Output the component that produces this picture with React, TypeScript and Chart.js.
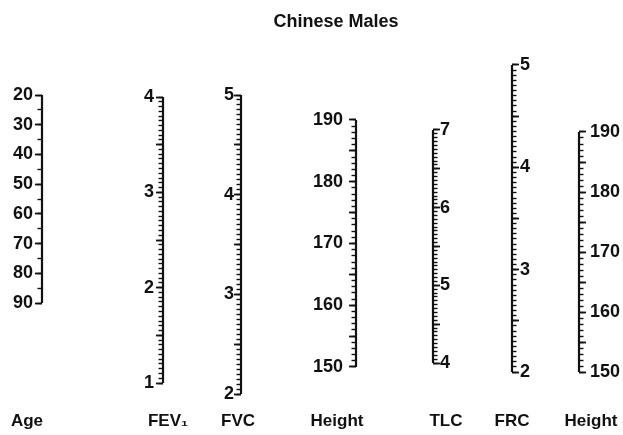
import React, { useEffect, useRef } from 'react';
import { Chart, registerables } from 'chart.js';

Chart.register(...registerables);

// ---------------- data ----------------
const titleText = 'Chinese Males';
const columnNames = ['Age', 'FEV₁', 'FVC', 'Height', 'TLC', 'FRC', 'Height'];
const ageTicks = [20, 30, 40, 50, 60, 70, 80, 90];
const fev1Ticks = [4, 3, 2, 1];
const fvcTicks = [5, 4, 3, 2];
const heightTicks = [190, 180, 170, 160, 150];
const tlcTicks = [7, 6, 5, 4];
const frcTicks = [5, 4, 3, 2];
const height2Ticks = [190, 180, 170, 160, 150];
// unlabelled intermediate tick step and minor tick step per column
const midSteps = [10, 0.5, 0.5, 5, 0.5, 0.5, 5];
const minorSteps = [5, 0.05, 0.05, 1, 0.05, 0.05, 1];

// ---------------- layout (pixels) ----------------
const W = 623;
const H = 435;
const AREA_TOP = 50;
const AREA_BOTTOM = 395;
const INK = '#111';
const FAMILY = "'Liberation Sans', Arial, Helvetica, sans-serif";

type Side = 'left' | 'right';
const columnLayout: { side: Side; spineX: number; topPx: number; botPx: number; gap: number; nameX: number }[] = [
  { side: 'left', spineX: 42, topPx: 95, botPx: 303, gap: 4, nameX: 27 },
  { side: 'left', spineX: 163, topPx: 97, botPx: 383, gap: 4, nameX: 168 },
  { side: 'left', spineX: 241, topPx: 95, botPx: 394, gap: 2, nameX: 238 },
  { side: 'left', spineX: 356, topPx: 120, botPx: 367, gap: 8, nameX: 337 },
  { side: 'right', spineX: 433, topPx: 130, botPx: 363, gap: 1, nameX: 446 },
  { side: 'right', spineX: 512, topPx: 65, botPx: 372, gap: 3, nameX: 512 },
  { side: 'right', spineX: 579, topPx: 132, botPx: 372, gap: 6, nameX: 591 },
];
const titleX = 336;

const tickSets = [ageTicks, fev1Ticks, fvcTicks, heightTicks, tlcTicks, frcTicks, height2Ticks];
const ids = ['age', 'fev1', 'fvc', 'height', 'tlc', 'frc', 'height2'];

const r4 = (v: number) => Math.round(v * 10000) / 10000;
function steps(a: number, b: number, step: number): number[] {
  const lo = Math.min(a, b);
  const hi = Math.max(a, b);
  const n = Math.round((hi - lo) / step);
  const out: number[] = [];
  for (let i = 0; i <= n; i++) out.push(r4(lo + i * step));
  return out;
}

function buildConfig(): any {
  const scales: any = {};
  const leftCols = columnLayout.map((c, i) => i).filter((i) => columnLayout[i].side === 'left');
  const rightCols = columnLayout.map((c, i) => i).filter((i) => columnLayout[i].side === 'right');
  const areaLeft = columnLayout[leftCols[leftCols.length - 1]].spineX;
  const areaRight = columnLayout[rightCols[0]].spineX;

  const tickFont = { family: FAMILY, size: 18, weight: 'bold' as const };

  columnLayout.forEach((c, i) => {
    const t = tickSets[i];
    const vTop = t[0];
    const vBot = t[t.length - 1];
    const perPx = (vBot - vTop) / (c.botPx - c.topPx);
    const max = vTop + (AREA_TOP - c.topPx) * perPx;
    const min = vTop + (AREA_BOTTOM - c.topPx) * perPx;
    let boxW: number;
    let wMajor: number;
    let wMinor: number;
    if (c.side === 'left') {
      const k = leftCols.indexOf(i);
      const prev = k === 0 ? 0 : columnLayout[leftCols[k - 1]].spineX;
      boxW = c.spineX - prev;
      wMajor = 2 * (leftCols.length - k);
      wMinor = wMajor - 1;
    } else {
      const k = rightCols.indexOf(i);
      const next = k === rightCols.length - 1 ? W : columnLayout[rightCols[k + 1]].spineX;
      boxW = next - c.spineX;
      wMinor = 2 * k + 1;
      wMajor = 2 * k + 2;
    }
    const labelled = new Set(t.map(r4));
    const mids = steps(vTop, vBot, midSteps[i]);
    const minors = steps(vTop, vBot, minorSteps[i]);

    scales[ids[i]] = {
      type: 'linear',
      position: c.side,
      weight: wMajor,
      min,
      max,
      bounds: 'data',
      grid: {
        display: true,
        drawOnChartArea: false,
        drawTicks: true,
        tickLength: 7,
        tickWidth: 1.8,
        tickColor: INK,
      },
      border: { display: false },
      ticks: {
        color: INK,
        font: tickFont,
        padding: Math.max(0, c.gap - 2),
        autoSkip: false,
        callback: (v: number) => (labelled.has(r4(v)) ? String(r4(v)) : ''),
      },
      afterBuildTicks: (s: any) => {
        s.ticks = mids.map((v) => ({ value: v }));
      },
      afterFit: (s: any) => {
        s.width = boxW;
      },
    };
    scales[ids[i] + 'Minor'] = {
      type: 'linear',
      position: c.side,
      weight: wMinor,
      min,
      max,
      bounds: 'data',
      grid: {
        display: true,
        drawOnChartArea: false,
        drawTicks: true,
        tickLength: 4.5,
        tickWidth: 1.4,
        tickColor: INK,
      },
      border: { display: false },
      ticks: { display: false, autoSkip: false },
      afterBuildTicks: (s: any) => {
        s.ticks = minors.map((v) => ({ value: v }));
      },
      afterFit: (s: any) => {
        s.width = 0;
      },
    };
  });

  const nameXs = columnLayout.map((c) => c.nameX);
  scales.x = {
    type: 'linear',
    position: 'bottom',
    min: areaLeft,
    max: areaRight,
    bounds: 'data',
    grid: { display: false, drawTicks: false },
    border: { display: false },
    ticks: {
      color: INK,
      font: { family: FAMILY, size: 17, weight: 'bold' },
      padding: 16,
      autoSkip: false,
      maxRotation: 0,
      minRotation: 0,
      callback: (_v: number, idx: number) => columnNames[idx],
    },
    afterBuildTicks: (s: any) => {
      s.ticks = nameXs.map((v) => ({ value: v }));
    },
    afterFit: (s: any) => {
      s.height = H - AREA_BOTTOM;
    },
  };
  scales.xTop = {
    type: 'linear',
    position: 'top',
    min: areaLeft,
    max: areaRight,
    bounds: 'data',
    grid: { display: false, drawTicks: false },
    border: { display: false },
    ticks: {
      color: INK,
      font: { family: FAMILY, size: 18, weight: 'bold' },
      padding: 17,
      autoSkip: false,
      maxRotation: 0,
      minRotation: 0,
      callback: () => titleText,
    },
    afterBuildTicks: (s: any) => {
      s.ticks = [{ value: titleX }];
    },
    afterFit: (s: any) => {
      s.height = AREA_TOP;
    },
  };

  const datasets = columnLayout.map((c, i) => {
    const t = tickSets[i];
    return {
      type: 'line',
      label: columnNames[i],
      data: [
        { x: c.spineX, y: t[0] },
        { x: c.spineX, y: t[t.length - 1] },
      ],
      xAxisID: 'x',
      yAxisID: ids[i],
      borderColor: INK,
      borderWidth: 2.2,
      pointRadius: 0,
      fill: false,
      clip: false,
    };
  });

  return {
    type: 'line',
    data: { datasets },
    options: {
      animation: false,
      responsive: false,
      devicePixelRatio: 1,
      layout: { padding: 0 },
      events: [],
      plugins: {
        legend: { display: false },
        tooltip: { enabled: false },
        title: { display: false },
      },
      scales,
    },
  };
}

export default function App() {
  const ref = useRef<HTMLCanvasElement>(null);
  useEffect(() => {
    if (!ref.current) return;
    const chart = new Chart(ref.current, buildConfig());
    return () => chart.destroy();
  }, []);
  return (
    <div style={{ position: 'fixed', left: 0, top: 0, width: W, height: H, background: '#fff' }}>
      <canvas ref={ref} width={W} height={H} style={{ display: 'block', width: W, height: H }} />
    </div>
  );
}
